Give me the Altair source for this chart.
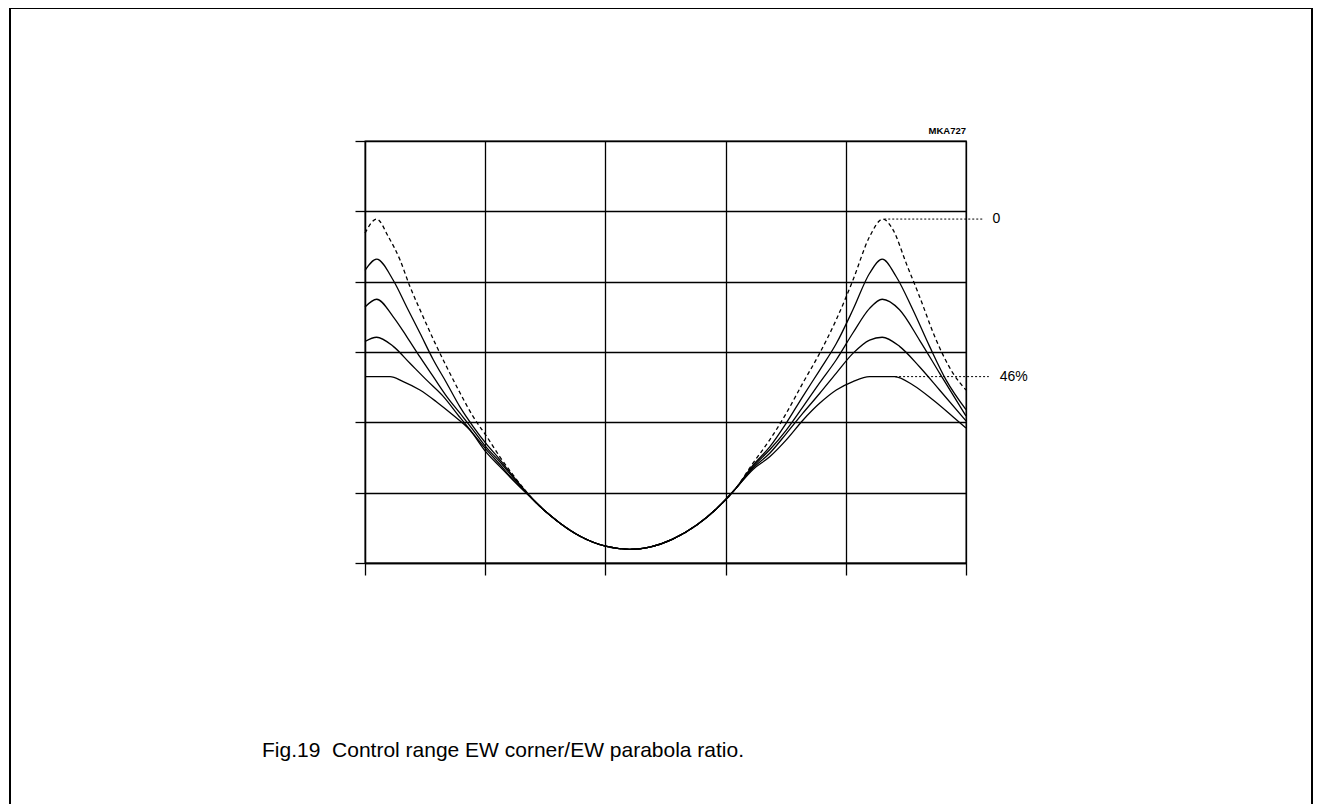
import altair as alt
import pandas as pd

# Grid units: x 0..5 (columns), y 0..6 (rows)
x_ticks = [0, 1, 2, 3, 4, 5]
y_ticks = [0, 1, 2, 3, 4, 5, 6]

# Shared parabola bottom (all curves coincide here)
common_x = [1.40, 1.51, 1.62, 1.79, 2.01, 2.20, 2.37, 2.56, 2.76, 2.92, 3.08]
common_y = [0.90, 0.72, 0.57, 0.38, 0.235, 0.195, 0.227, 0.34, 0.54, 0.765, 1.05]

# Curve "0" (dashed, no corner limitation)
c0_left_x = [0, 0.097, 0.194, 0.291, 0.374, 0.471, 0.582, 0.679, 0.790, 0.900, 1.012, 1.122, 1.233, 1.344]
c0_left_y = [4.69, 4.89, 4.64, 4.31, 3.93, 3.55, 3.13, 2.79, 2.42, 2.08, 1.80, 1.51, 1.25, 1.01]
c0_right_x = [3.228, 3.367, 3.505, 3.643, 3.782, 3.921, 4.059, 4.198, 4.308, 4.392, 4.503, 4.613, 4.752, 4.891, 5.0]
c0_right_y = [1.42, 1.75, 2.13, 2.56, 2.98, 3.46, 4.02, 4.64, 4.89, 4.74, 4.26, 3.79, 3.17, 2.70, 2.46]

c2_left_x = [0, 0.097, 0.235, 0.347, 0.457, 0.568, 0.679, 0.790, 0.900, 1.006, 1.122, 1.233]
c2_left_y = [4.16, 4.32, 4.02, 3.64, 3.27, 2.89, 2.56, 2.22, 1.94, 1.70, 1.47, 1.23]
c2_right_x = [3.228, 3.367, 3.505, 3.643, 3.782, 3.921, 4.059, 4.198, 4.303, 4.420, 4.558, 4.697, 4.835, 5.0]
c2_right_y = [1.39, 1.65, 1.99, 2.37, 2.74, 3.12, 3.60, 4.12, 4.32, 4.07, 3.60, 3.08, 2.60, 2.18]

c3_left_x = [0, 0.097, 0.235, 0.347, 0.457, 0.568, 0.679, 0.790, 0.900, 1.006, 1.122, 1.233]
c3_left_y = [3.64, 3.75, 3.50, 3.22, 2.93, 2.65, 2.37, 2.13, 1.89, 1.65, 1.44, 1.21]
c3_right_x = [3.228, 3.367, 3.505, 3.643, 3.782, 3.921, 4.059, 4.198, 4.303, 4.447, 4.613, 4.780, 5.0]
c3_right_y = [1.37, 1.61, 1.89, 2.22, 2.56, 2.89, 3.27, 3.62, 3.75, 3.60, 3.17, 2.70, 2.09]

c4_left_x = [0, 0.097, 0.235, 0.374, 0.513, 0.651, 0.790, 0.900, 1.006, 1.122, 1.233]
c4_left_y = [3.15, 3.21, 3.08, 2.84, 2.60, 2.37, 2.07, 1.84, 1.62, 1.40, 1.18]
c4_right_x = [3.228, 3.367, 3.505, 3.643, 3.782, 3.921, 4.059, 4.198, 4.303, 4.447, 4.613, 4.780, 5.0]
c4_right_y = [1.35, 1.56, 1.84, 2.13, 2.41, 2.70, 2.98, 3.17, 3.21, 3.08, 2.79, 2.46, 2.02]

# Curve "46%" (clipped corners)
c5_left_x = [0, 0.208, 0.318, 0.457, 0.596, 0.734, 0.873, 1.006, 1.122, 1.261]
c5_left_y = [2.65, 2.65, 2.58, 2.46, 2.29, 2.10, 1.89, 1.58, 1.37, 1.13]
c5_right_x = [3.228, 3.367, 3.505, 3.643, 3.782, 3.921, 4.059, 4.198, 4.406, 4.558, 4.724, 4.891, 5.0]
c5_right_y = [1.33, 1.51, 1.75, 2.03, 2.27, 2.46, 2.58, 2.65, 2.65, 2.53, 2.32, 2.08, 1.92]

# Annotation leaders and labels
label_text = ["0", "46%"]
label_y = [4.89, 2.65]
leader_x = [4.32, 4.41]
leader_x2 = [5.15, 5.19]
label_x = [5.22, 5.28]

caption = "Fig.19\u00a0 Control range EW corner/EW parabola ratio."
code_text = "MKA727"


def build(name, lx, ly, rx, ry):
    xs = lx + common_x + rx
    ys = ly + common_y + ry
    return pd.DataFrame({"x": xs, "y": ys, "curve": name, "i": range(len(xs))})


df_dashed = build("0", c0_left_x, c0_left_y, c0_right_x, c0_right_y)
df_solid = pd.concat([
    build("c2", c2_left_x, c2_left_y, c2_right_x, c2_right_y),
    build("c3", c3_left_x, c3_left_y, c3_right_x, c3_right_y),
    build("c4", c4_left_x, c4_left_y, c4_right_x, c4_right_y),
    build("46%", c5_left_x, c5_left_y, c5_right_x, c5_right_y),
])

xscale = alt.Scale(domain=[0, 5], nice=False, zero=False)
yscale = alt.Scale(domain=[0, 6], nice=False, zero=False)

xaxis = alt.Axis(values=x_ticks, labels=False, title=None, tickSize=12, grid=True,
                 gridColor="black", gridOpacity=1, gridWidth=1.3, domainColor="black",
                 tickColor="black", tickWidth=1.3, domainWidth=1.3)
yaxis = alt.Axis(values=y_ticks, labels=False, title=None, tickSize=10, grid=True,
                 gridColor="black", gridOpacity=1, gridWidth=1.3, domainColor="black",
                 tickColor="black", tickWidth=1.3, domainWidth=1.3)

solid = alt.Chart(df_solid).mark_line(color="black", strokeWidth=1.3, interpolate="monotone").encode(
    x=alt.X("x:Q", scale=xscale, axis=xaxis),
    y=alt.Y("y:Q", scale=yscale, axis=yaxis),
    detail="curve:N",
    order="i:Q",
)

dashed = alt.Chart(df_dashed).mark_line(color="black", strokeWidth=1.3, strokeDash=[4, 3],
                                        interpolate="monotone").encode(
    x=alt.X("x:Q", scale=xscale),
    y=alt.Y("y:Q", scale=yscale),
    order="i:Q",
)

ann = pd.DataFrame({"t": label_text, "y": label_y, "x1": leader_x, "x2": leader_x2, "lx": label_x})

leaders = alt.Chart(ann).mark_rule(color="black", strokeWidth=1, strokeDash=[2, 2]).encode(
    x=alt.X("x1:Q", scale=xscale),
    x2="x2:Q",
    y=alt.Y("y:Q", scale=yscale),
)

labels = alt.Chart(ann).mark_text(align="left", baseline="middle", fontSize=14,
                                  font="Liberation Sans", color="black").encode(
    x=alt.X("lx:Q", scale=xscale),
    y=alt.Y("y:Q", scale=yscale),
    text="t:N",
)

one = pd.DataFrame({"t": [code_text]})
code = alt.Chart(one).mark_text(align="right", baseline="bottom", fontSize=9.5, fontWeight="bold",
                                font="Liberation Sans", color="black").encode(
    x=alt.value(601), y=alt.value(-5), text="t:N")

cap = pd.DataFrame({"t": [caption]})
capt = alt.Chart(cap).mark_text(align="left", baseline="alphabetic", fontSize=21,
                                font="Liberation Sans", color="black").encode(
    x=alt.value(-103), y=alt.value(616), text="t:N")

border = alt.Chart(one).mark_rect(filled=False, stroke="black", strokeWidth=2).encode(
    x=alt.value(-355), x2=alt.value(947), y=alt.value(-133), y2=alt.value(720))

chart = alt.layer(solid, dashed, leaders, labels, code, capt, border).properties(
    width=601, height=422,
    padding={"left": 357, "top": 133, "right": 348, "bottom": 241},
    autosize=alt.AutoSizeParams(type="none"),
).configure_view(stroke="black", strokeWidth=1.3)

chart.save("out.html", embed_options={"renderer": "svg", "actions": False})
